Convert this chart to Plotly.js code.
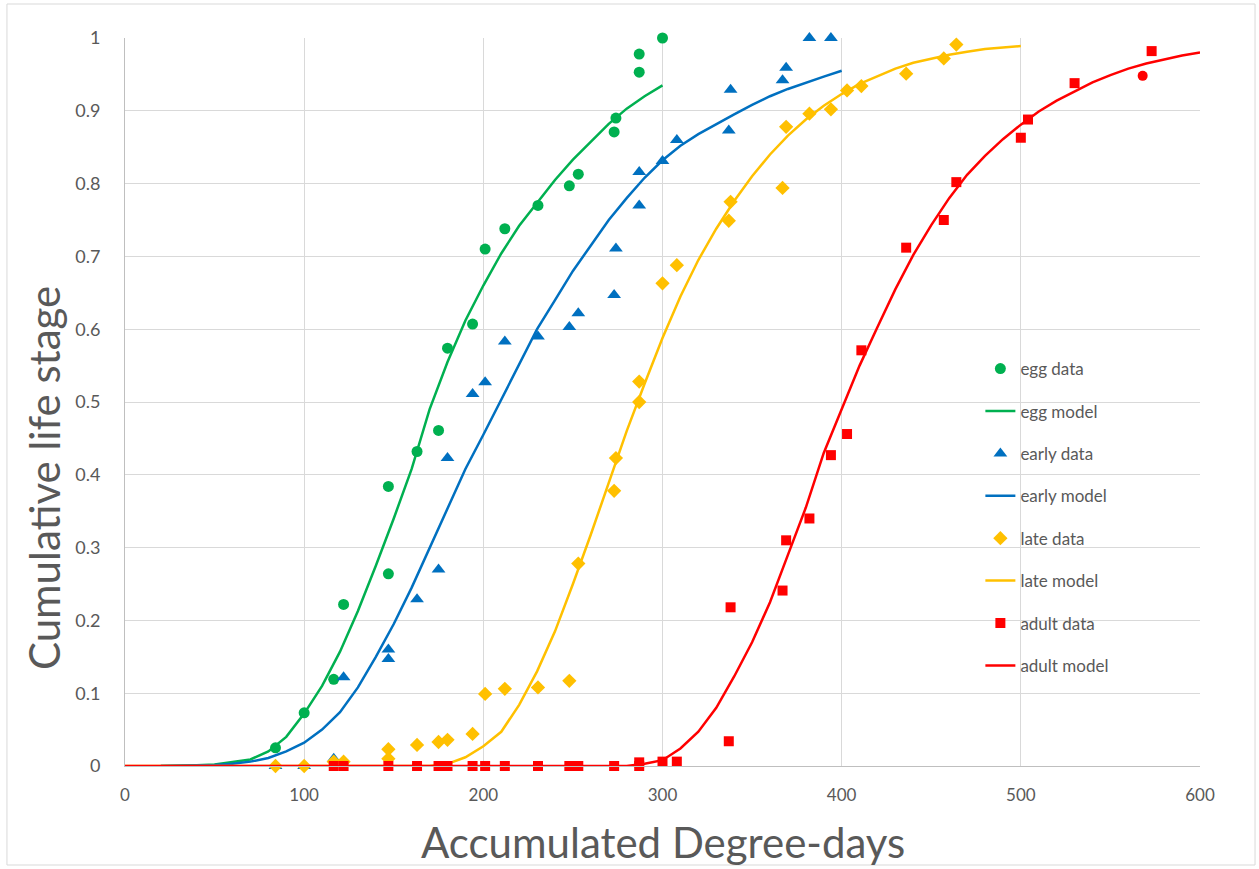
<!DOCTYPE html>
<html>
<head>
<meta charset="utf-8">
<script src="https://cdn.plot.ly/plotly-3.0.1.min.js"></script>
<style>
html, body { margin: 0; padding: 0; background: #ffffff; }
#chart { width: 1259px; height: 869px; }
</style>
</head>
<body>
<div id="chart"></div>
<script>
// ---- data ----
const eggDataX = [84, 100, 116.5, 122, 147, 147, 163, 175, 180, 194, 201, 212, 230.5, 248, 253, 273, 274, 287, 287, 300];
const eggDataY = [0.025, 0.073, 0.119, 0.222, 0.264, 0.384, 0.432, 0.461, 0.574, 0.607, 0.710, 0.738, 0.770, 0.797, 0.813, 0.871, 0.890, 0.953, 0.978, 1.0];

const eggModelX = [20, 30, 40, 50, 60, 70, 80, 90, 100, 110, 120, 130, 140, 150, 160, 170, 180, 190, 200, 210, 220, 230, 240, 250, 260, 270, 280, 290, 300];
const eggModelY = [0, 0.0003, 0.001, 0.002, 0.005, 0.009, 0.02, 0.04, 0.072, 0.11, 0.157, 0.213, 0.275, 0.34, 0.408, 0.49, 0.555, 0.612, 0.66, 0.704, 0.742, 0.774, 0.805, 0.833, 0.858, 0.882, 0.903, 0.92, 0.935];

const earlyDataX = [84, 100, 116.5, 122, 147, 147, 163, 175, 180, 194, 201, 212, 230.5, 248, 253, 273, 274, 287, 287, 300, 308, 337, 338, 367, 369, 382, 394];
const earlyDataY = [0, 0, 0.01, 0.122, 0.147, 0.160, 0.229, 0.270, 0.423, 0.511, 0.527, 0.583, 0.590, 0.603, 0.622, 0.647, 0.711, 0.770, 0.816, 0.831, 0.860, 0.873, 0.929, 0.942, 0.959, 1.0, 1.0];

const earlyModelX = [20, 30, 40, 50, 60, 70, 80, 90, 100, 110, 120, 130, 140, 150, 160, 170, 180, 190, 200, 210, 220, 230, 240, 250, 260, 270, 280, 290, 300, 310, 320, 330, 340, 350, 360, 370, 380, 390, 400];
const earlyModelY = [0, 0.0003, 0.0008, 0.0015, 0.003, 0.006, 0.011, 0.02, 0.032, 0.05, 0.074, 0.108, 0.15, 0.195, 0.245, 0.3, 0.355, 0.408, 0.455, 0.503, 0.55, 0.6, 0.64, 0.68, 0.715, 0.75, 0.78, 0.808, 0.832, 0.852, 0.868, 0.882, 0.895, 0.908, 0.92, 0.93, 0.939, 0.947, 0.955];

const lateDataX = [84, 100, 116.5, 122, 147, 147, 163, 175, 180, 194, 201, 212, 230.5, 248, 253, 273, 274, 287, 287, 300, 308, 337, 338, 367, 369, 382, 394, 403, 411, 436, 457, 464];
const lateDataY = [0, 0, 0.006, 0.006, 0.01, 0.023, 0.029, 0.033, 0.036, 0.044, 0.099, 0.106, 0.108, 0.117, 0.278, 0.378, 0.423, 0.500, 0.528, 0.663, 0.688, 0.749, 0.775, 0.794, 0.878, 0.896, 0.902, 0.928, 0.934, 0.951, 0.972, 0.991];

const lateModelX = [0, 170, 180, 190, 200, 210, 220, 230, 240, 250, 260, 270, 280, 290, 300, 310, 320, 330, 340, 350, 360, 370, 380, 390, 400, 410, 420, 430, 440, 450, 460, 470, 480, 490, 500];
const lateModelY = [0, 0, 0.003, 0.012, 0.027, 0.047, 0.084, 0.13, 0.185, 0.25, 0.318, 0.39, 0.46, 0.525, 0.588, 0.645, 0.695, 0.738, 0.776, 0.81, 0.84, 0.866, 0.888, 0.907, 0.923, 0.937, 0.948, 0.958, 0.966, 0.972, 0.977, 0.981, 0.985, 0.987, 0.989];

const adultDataX = [116.5, 122, 147, 163, 175, 177.5, 180, 194, 201, 212, 230.5, 248, 250.5, 253, 273, 287, 287, 300, 308, 337, 338, 367, 369, 382, 394, 403, 411, 436, 457, 464, 500, 504, 530, 568, 573];
const adultDataY = [0, 0, 0, 0, 0, 0, 0, 0, 0, 0, 0, 0, 0, 0, 0, 0, 0.005, 0.006, 0.006, 0.034, 0.218, 0.241, 0.31, 0.340, 0.427, 0.456, 0.571, 0.712, 0.750, 0.802, 0.863, 0.888, 0.938, 0.948, 0.982];
const adultDataSymbols = ["square","square","square","square","square","square","square","square","square","square","square","square","square","square","square","square","square","square","square","square","square","square","square","square","square","square","square","square","square","square","square","square","square","circle","square"];

const adultModelX = [0, 280, 290, 300, 310, 320, 330, 340, 350, 360, 370, 380, 390, 400, 410, 420, 430, 440, 450, 460, 470, 480, 490, 500, 510, 520, 530, 540, 550, 560, 570, 580, 590, 600];
const adultModelY = [0, 0, 0.003, 0.008, 0.024, 0.047, 0.08, 0.123, 0.17, 0.225, 0.29, 0.355, 0.43, 0.49, 0.55, 0.603, 0.655, 0.702, 0.743, 0.78, 0.812, 0.838, 0.861, 0.881, 0.899, 0.914, 0.927, 0.939, 0.949, 0.958, 0.965, 0.971, 0.976, 0.98];

const xTicks = [0, 100, 200, 300, 400, 500, 600];
const yTicks = [0, 0.1, 0.2, 0.3, 0.4, 0.5, 0.6, 0.7, 0.8, 0.9, 1];
const yTickText = ["0", "0.1", "0.2", "0.3", "0.4", "0.5", "0.6", "0.7", "0.8", "0.9", "1"];

const GREEN = "#00B050", BLUE = "#0070C0", YELLOW = "#FFC000", RED = "#FF0000";
const FONT = "Lato, 'Open Sans', 'DejaVu Sans', sans-serif";
const GREY = "#595959";

function dataTrace(name, x, y, color, symbol, size, group) {
  return { type: "scatter", mode: "markers", name, x, y, legendgroup: group, cliponaxis: false,
           marker: { color, symbol, size, line: { width: 0 } } };
}
function modelTrace(name, x, y, color, group) {
  return { type: "scatter", mode: "lines", name, x, y, legendgroup: group, cliponaxis: false,
           line: { color, width: 2.5 } };
}

const traces = [
  dataTrace("egg data", eggDataX, eggDataY, GREEN, "circle", 11, "g1"),
  modelTrace("egg model", eggModelX, eggModelY, GREEN, "g2"),
  dataTrace("early data", earlyDataX, earlyDataY, BLUE, "triangle-up", 12, "g3"),
  modelTrace("early model", earlyModelX, earlyModelY, BLUE, "g4"),
  dataTrace("late data", lateDataX, lateDataY, YELLOW, "diamond", 11, "g5"),
  modelTrace("late model", lateModelX, lateModelY, YELLOW, "g6"),
  dataTrace("adult data", adultDataX, adultDataY, RED, adultDataSymbols, 10, "g7"),
  modelTrace("adult model", adultModelX, adultModelY, RED, "g8")
];

const layout = {
  width: 1259, height: 869,
  margin: { l: 125, r: 59, t: 38, b: 103 },
  paper_bgcolor: "#ffffff", plot_bgcolor: "#ffffff",
  font: { family: FONT, color: GREY, size: 16 },
  showlegend: true,
  legend: {
    x: 0.7957, xanchor: "left", y: 0.57, yanchor: "top",
    bgcolor: "rgba(0,0,0,0)", borderwidth: 0,
    font: { family: FONT, size: 17, color: GREY },
    tracegroupgap: 17.3, traceorder: "grouped"
  },
  xaxis: {
    range: [0, 600], tickvals: xTicks, ticktext: xTicks.map(String),
    showgrid: true, gridcolor: "#D9D9D9", gridwidth: 1,
    zeroline: false, showline: true, linecolor: "#BFBFBF", linewidth: 1,
    ticks: "", ticklabelstandoff: 14,
    tickfont: { family: FONT, size: 17, color: GREY },
    fixedrange: true
  },
  yaxis: {
    range: [0, 1], tickvals: yTicks, ticktext: yTickText,
    showgrid: true, gridcolor: "#D9D9D9", gridwidth: 1,
    zeroline: false, showline: true, linecolor: "#BFBFBF", linewidth: 1,
    ticks: "", ticklabelstandoff: 20,
    tickfont: { family: FONT, size: 18, color: GREY },
    fixedrange: true
  },
  annotations: [
    { text: "Accumulated Degree-days", xref: "paper", yref: "paper", x: 0.5, y: -0.104,
      xanchor: "center", yanchor: "middle", showarrow: false,
      font: { family: FONT, size: 42, color: GREY } },
    { text: "Cumulative life stage", xref: "paper", yref: "paper", x: -0.0753, y: 0.3956,
      xanchor: "center", yanchor: "middle", textangle: -90, showarrow: false,
      font: { family: FONT, size: 42, color: GREY } }
  ],
  shapes: [
    { type: "rect", xref: "paper", yref: "paper", x0: -0.1098, x1: 1.0512, y0: -0.136, y1: 1.0467,
      line: { color: "#D9D9D9", width: 1 }, fillcolor: "rgba(0,0,0,0)", layer: "below" }
  ]
};

Plotly.newPlot("chart", traces, layout, { displayModeBar: false, staticPlot: true });
</script>
</body>
</html>
